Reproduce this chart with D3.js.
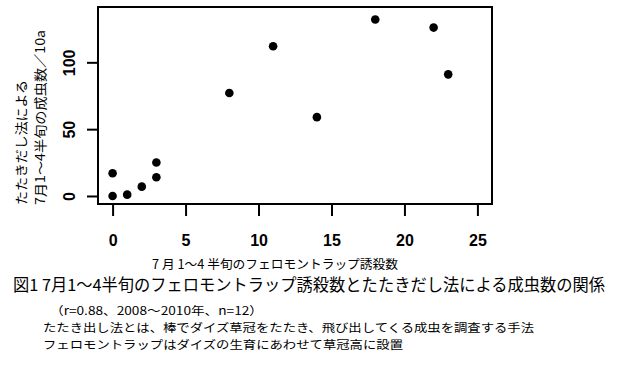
<!DOCTYPE html>
<html>
<head>
<meta charset="utf-8">
<script src="https://cdn.jsdelivr.net/npm/d3@7"></script>
<style>
  body { margin: 0; background: #fff; }
  .jp { font-family: "Noto Sans CJK JP", sans-serif; }
  .num { font-family: "Liberation Sans", Arial, sans-serif; }
</style>
</head>
<body>
<div id="chart"></div>
<script>
// trap catches (x) vs. beat-sampling adults (y)
const trapCounts = [0, 0, 1, 2, 3, 3, 8, 11, 14, 18, 22, 23];
const adultCounts = [0, 17, 1, 7, 14, 25, 77, 112, 59, 132, 126, 91];
const xTicks = [0, 5, 10, 15, 20, 25];
const yTicks = [0, 50, 100];

const xLabel = "7 月 1～4 半旬のフェロモントラップ誘殺数";
const yLabelLines = ["たたきだし法による", "7月1～4半旬の成虫数／10a"];
const captionTitle = "図1 7月1～4半旬のフェロモントラップ誘殺数とたたきだし法による成虫数の関係";
const captionNotes = [
    "（r=0.88、2008～2010年、n=12）",
    "たたき出し法とは、棒でダイズ草冠をたたき、飛び出してくる成虫を調査する手法",
    "フェロモントラップはダイズの生育にあわせて草冠高に設置"
];

const width = 625, height = 376;
const box = { left: 98, right: 492, top: 7, bottom: 204 };

const svg = d3.select("#chart")
    .append("svg")
    .attr("width", width)
    .attr("height", height);

const x = d3.scaleLinear()
    .domain([-1, 26])
    .range([box.left, box.right]);

const y = d3.scaleLinear()
    .domain([-6, 141.4])
    .range([box.bottom, box.top]);

// x axis (R style: detached ticks below the box)
const xAxis = svg.append("g")
    .attr("transform", `translate(0,${box.bottom})`)
    .call(d3.axisBottom(x).tickValues(xTicks).tickSize(12).tickPadding(19).tickFormat(d3.format("d")));
xAxis.select(".domain").remove();
xAxis.selectAll("line").attr("stroke", "#000").attr("stroke-width", 2);
xAxis.selectAll("text")
    .attr("class", "num")
    .attr("font-size", 16)
    .attr("font-weight", "bold")
    .attr("fill", "#000");

// y axis, labels rotated
const yAxis = svg.append("g")
    .attr("transform", `translate(${box.left},0)`)
    .call(d3.axisLeft(y).tickValues(yTicks).tickSize(11).tickFormat(d3.format("d")));
yAxis.select(".domain").remove();
yAxis.selectAll("line").attr("stroke", "#000").attr("stroke-width", 2);
yAxis.selectAll("text")
    .attr("class", "num")
    .attr("font-size", 16)
    .attr("font-weight", "bold")
    .attr("fill", "#000")
    .attr("text-anchor", "middle")
    .attr("transform", "rotate(-90)")
    .attr("x", 0)
    .attr("dy", null)
    .attr("y", -23);

// frame
svg.append("rect")
    .attr("x", box.left)
    .attr("y", box.top)
    .attr("width", box.right - box.left)
    .attr("height", box.bottom - box.top)
    .attr("fill", "none")
    .attr("stroke", "#000")
    .attr("stroke-width", 2);

// points
svg.append("g")
    .selectAll("circle")
    .data(trapCounts.map((d, i) => ({ t: d, a: adultCounts[i] })))
    .join("circle")
    .attr("cx", d => x(d.t))
    .attr("cy", d => y(d.a))
    .attr("r", 4.3)
    .attr("fill", "#000");

// axis titles
svg.append("text")
    .attr("class", "jp")
    .attr("x", 152)
    .attr("y", 269)
    .attr("font-size", 12.5)
    .attr("textLength", 246)
    .attr("lengthAdjust", "spacingAndGlyphs")
    .text(xLabel);

const yLabLen = [125, 175];
svg.selectAll(".ylab")
    .data(yLabelLines)
    .join("text")
    .attr("class", "jp ylab")
    .attr("transform", (d, i) => `translate(${26 + i * 19},205) rotate(-90)`)
    .attr("font-size", 13)
    .attr("textLength", (d, i) => yLabLen[i])
    .attr("lengthAdjust", "spacingAndGlyphs")
    .text(d => d);

// caption
svg.append("text")
    .attr("class", "jp")
    .attr("x", 13)
    .attr("y", 291)
    .attr("font-size", 16.5)
    .attr("textLength", 592)
    .attr("lengthAdjust", "spacingAndGlyphs")
    .text(captionTitle);

const noteX = [50, 43, 43];
const noteLen = [213, 491, 360];
svg.selectAll(".note")
    .data(captionNotes)
    .join("text")
    .attr("class", "jp note")
    .attr("x", (d, i) => noteX[i])
    .attr("y", (d, i) => 315 + i * 17)
    .attr("font-size", 11.5)
    .attr("textLength", (d, i) => noteLen[i])
    .attr("lengthAdjust", "spacingAndGlyphs")
    .text(d => d);
</script>
</body>
</html>
